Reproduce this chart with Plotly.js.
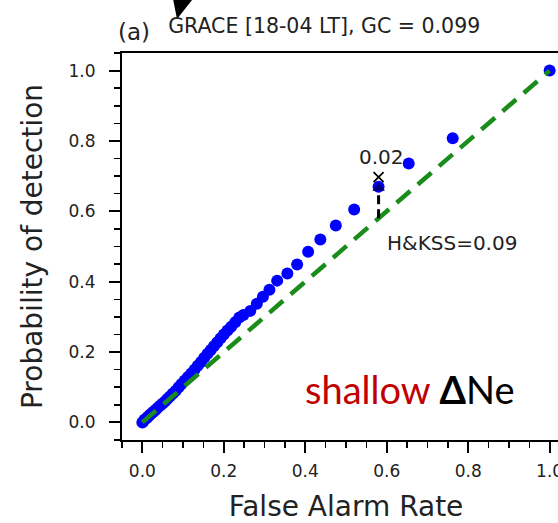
<!DOCTYPE html>
<html>
<head>
<meta charset="utf-8">
<script src="https://cdn.plot.ly/plotly-3.0.1.min.js"></script>
<style>
html,body{margin:0;padding:0;overflow:hidden;background:#fff;}
#chart{width:580px;height:523px;}
</style>
</head>
<body>
<div id="chart"></div>
<script>
// False alarm rate (x) and probability of detection (y)
const farValues = [0.000,0.003,0.006,0.010,0.014,0.018,0.023,0.028,0.033,0.038,0.044,0.050,0.056,0.062,0.068,0.075,0.082,0.089,0.096,0.104,0.112,0.120,0.128,0.136,0.144,0.152,0.160,0.168,0.176,0.184,0.192,0.200,0.209,0.218,0.228,0.238,0.248,0.265,0.281,0.296,0.312,0.331,0.356,0.380,0.407,0.437,0.475,0.520,0.580,0.654,0.762,1.000];
const podValues = [0.000,0.004,0.008,0.012,0.016,0.021,0.026,0.031,0.036,0.042,0.048,0.054,0.060,0.067,0.074,0.082,0.090,0.100,0.109,0.119,0.129,0.139,0.150,0.161,0.172,0.184,0.195,0.206,0.217,0.228,0.239,0.250,0.261,0.272,0.285,0.298,0.305,0.317,0.337,0.357,0.377,0.403,0.423,0.449,0.485,0.520,0.560,0.605,0.670,0.736,0.808,1.000];
const diagonal = [0, 1];
const xTickVals = [0, 0.2, 0.4, 0.6, 0.8, 1.0];
const yTickVals = [0, 0.2, 0.4, 0.6, 0.8, 1.0];
const titleText = "GRACE [18-04 LT], GC = 0.099";
const panelLabel = "(a)";
const gcLabel = "0.02";
const kssLabel = "H&KSS=0.09";

// location of max Hanssen & Kuipers skill score
let best = 0;
for (let i = 0; i < farValues.length; i++) {
  if (podValues[i] - farValues[i] > podValues[best] - farValues[best]) best = i;
}
const bx = farValues[best], by = podValues[best];

const traces = [
  {x: farValues, y: podValues, mode: 'markers', type: 'scatter',
   marker: {color: '#0000ff', size: 12}, showlegend: false, hoverinfo: 'skip'},
  {x: diagonal, y: diagonal, mode: 'lines', type: 'scatter',
   line: {color: '#1a8c1a', width: 4.5, dash: '18px,10px'}, showlegend: false, hoverinfo: 'skip'},
  {x: [bx, bx], y: [bx, by - 0.012], mode: 'lines', type: 'scatter',
   line: {color: '#000', width: 3, dash: '9px,5px'}, showlegend: false, hoverinfo: 'skip'},
  {x: [bx], y: [by - 0.004], mode: 'markers', type: 'scatter',
   marker: {symbol: 'triangle-up', color: '#00007a', size: 11}, showlegend: false, hoverinfo: 'skip'},
  {x: [bx], y: [by + 0.027], mode: 'markers', type: 'scatter',
   marker: {symbol: 'x-thin', size: 10, line: {color: '#000', width: 1.8}}, showlegend: false, hoverinfo: 'skip'}
];

const axisCommon = {
  showgrid: false, zeroline: false, showline: true, linecolor: '#000', linewidth: 2,
  mirror: true, ticks: 'outside', ticklen: 11, tickwidth: 2, tickcolor: '#000',
  tickfont: {family: 'DejaVu Sans', size: 17, color: '#222'},
  minor: {dtick: 0.05, ticks: 'outside', ticklen: 6, tickwidth: 1.5, tickcolor: '#000'}
};

const layout = {
  width: 580, height: 523,
  margin: {l: 122, r: 10, t: 53, b: 83},
  paper_bgcolor: '#fff', plot_bgcolor: '#fff',
  title: {text: titleText, font: {family: 'DejaVu Sans', size: 20.5, color: '#222'},
          xref: 'paper', x: 0.103, xanchor: 'left', yref: 'container', y: 0.951, yanchor: 'middle'},
  xaxis: Object.assign({}, axisCommon, {
    range: [-0.05, 1.05], tickvals: xTickVals, ticktext: xTickVals.map(v => v.toFixed(1)),
    ticklabelstandoff: 4,
    title: {text: 'False Alarm Rate', font: {family: 'DejaVu Sans', size: 28, color: '#222'}, standoff: 16}
  }),
  yaxis: Object.assign({}, axisCommon, {
    range: [-0.05, 1.05], tickvals: yTickVals, ticktext: yTickVals.map(v => v.toFixed(1)),
    ticklabelstandoff: 10,
    title: {text: 'Probability of detection', font: {family: 'DejaVu Sans', size: 28, color: '#222'}, standoff: 18}
  }),
  annotations: [
    {text: panelLabel, xref: 'paper', yref: 'paper', x: -0.014, y: 1.054, xanchor: 'left', yanchor: 'middle',
     showarrow: false, font: {family: 'DejaVu Sans', size: 23, color: '#222'}},
    {text: gcLabel, xref: 'x', yref: 'y', x: bx + 0.008, y: by + 0.085, xanchor: 'center', yanchor: 'middle',
     showarrow: false, font: {family: 'DejaVu Sans', size: 20, color: '#222'}},
    {text: kssLabel, xref: 'x', yref: 'y', x: 0.596, y: 0.511, xanchor: 'left', yanchor: 'middle',
     showarrow: false, font: {family: 'DejaVu Sans', size: 20, color: '#222'}},
    {text: "<span style='color:#c00000'>shallow</span> <b>Δ</b>Ne", xref: 'x', yref: 'y', x: 0.657, y: 0.095,
     xanchor: 'center', yanchor: 'middle', showarrow: false,
     font: {family: 'Lato', size: 38, color: '#000'}}
  ],
  shapes: [
    {type: 'path', xref: 'paper', yref: 'paper', path: 'M 0.1138 1.14 L 0.1585 1.14 L 0.1228 1.088 Z',
     fillcolor: '#000', line: {width: 0}}
  ]
};

Plotly.newPlot('chart', traces, layout, {displayModeBar: false, staticPlot: true});
</script>
</body>
</html>
